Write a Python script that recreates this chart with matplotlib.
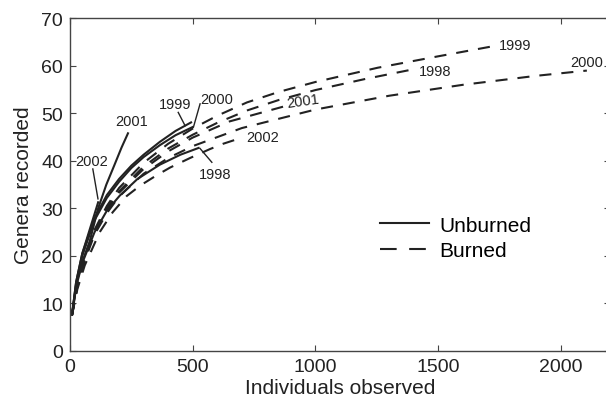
import numpy as np
import matplotlib
matplotlib.use('Agg')
import matplotlib.pyplot as plt
from matplotlib.lines import Line2D

plt.rcParams['font.family'] = ['Liberation Sans', 'DejaVu Sans']

# Rarefaction curves (individuals, genera)
# Unburned plots (solid)
unb_1998_x = [8, 25, 50, 100, 150, 203, 275, 366, 450, 528]
unb_1998_y = [7.5, 13.5, 18.5, 25, 29.5, 32.7, 36.2, 39.2, 41.3, 42.8]
unb_1999_x = [8, 25, 50, 100, 150, 200, 250, 300, 366, 430, 497]
unb_1999_y = [7.5, 14.5, 20.5, 28, 32.8, 36.2, 39, 41.3, 44, 46.3, 48.2]
unb_2000_x = [8, 25, 50, 100, 150, 200, 250, 300, 366, 430, 503]
unb_2000_y = [7.5, 14, 20, 27.5, 32.2, 35.6, 38.5, 40.8, 43.3, 45.4, 47.2]
unb_2001_x = [8, 30, 55, 80, 114, 148, 180, 210, 238]
unb_2001_y = [7.5, 15, 19.5, 23, 29.9, 35, 39, 42.8, 46]
unb_2002_x = [8, 25, 50, 80, 116]
unb_2002_y = [7.5, 14.5, 20.5, 25.5, 31.5]

# Burned plots (dashed)
bur_1998_x = [8, 30, 60, 100, 150, 200, 300, 400, 500, 600, 721, 850, 1000, 1200, 1402]
bur_1998_y = [7.5, 13.8, 19.5, 25, 30, 33.6, 38.8, 42.6, 45.5, 48, 50.6, 52.8, 54.9, 57.2, 59.3]
bur_1999_x = [8, 30, 60, 100, 150, 200, 300, 400, 500, 600, 721, 850, 1000, 1254, 1500, 1732]
bur_1999_y = [7.5, 14, 20, 25.5, 30.5, 34.3, 39.6, 43.6, 46.8, 49.5, 52.3, 54.5, 56.6, 59.6, 62, 64.2]
bur_2000_x = [8, 30, 60, 100, 150, 200, 300, 400, 500, 700, 1000, 1300, 1600, 1900, 2106]
bur_2000_y = [7.5, 13.5, 19, 24.5, 29, 32.5, 37.3, 40.6, 43.1, 46.9, 50.8, 53.7, 56, 57.9, 59]
bur_2001_x = [8, 30, 60, 100, 150, 200, 300, 400, 500, 650, 875]
bur_2001_y = [7.5, 14, 19.5, 25, 29.8, 33.3, 38.3, 42, 44.9, 48.3, 51.5]
bur_2002_x = [8, 30, 60, 121, 174, 231, 286, 354, 408, 489, 571, 624, 707]
bur_2002_y = [7.5, 13, 18, 25, 29.2, 32.6, 34.8, 37, 38.6, 40.6, 42.5, 43.6, 45]

ink = '#222222'
lw = 1.5
dash = (5.8, 4.8)

fig = plt.figure(figsize=(6.06, 4.02), dpi=100)
ax = fig.add_axes([0.1155, 0.1244, 0.891, 0.8276])

for xs, ys in [(unb_1998_x, unb_1998_y), (unb_1999_x, unb_1999_y), (unb_2000_x, unb_2000_y),
               (unb_2001_x, unb_2001_y), (unb_2002_x, unb_2002_y)]:
    ax.plot(xs, ys, color=ink, lw=lw, solid_capstyle='butt', solid_joinstyle='round')

for xs, ys in [(bur_1998_x, bur_1998_y), (bur_1999_x, bur_1999_y), (bur_2000_x, bur_2000_y),
               (bur_2001_x, bur_2001_y), (bur_2002_x, bur_2002_y)]:
    ax.plot(xs, ys, color=ink, lw=lw, dashes=dash, dash_capstyle='butt')

# year labels, with leader lines for the unburned curves
fs = 10.5
ax.text(428, 52, '1999', fontsize=fs, ha='center', va='center', color=ink)
ax.plot([441, 469], [50.2, 47.4], color=ink, lw=1.0)
ax.text(596, 53, '2000', fontsize=fs, ha='center', va='center', color=ink)
ax.plot([530, 503], [52, 47.1], color=ink, lw=1.0)
ax.text(251, 48.4, '2001', fontsize=fs, ha='center', va='center', color=ink)
ax.text(87, 40, '2002', fontsize=fs, ha='center', va='center', color=ink)
ax.plot([93, 114], [38.3, 32.0], color=ink, lw=1.0)
ax.text(592, 37.2, '1998', fontsize=fs, ha='center', va='center', color=ink)
ax.plot([578, 530], [39.7, 42.6], color=ink, lw=1.0)

ax.text(720, 45, '2002', fontsize=fs, ha='left', va='center', color=ink)
ax.text(948, 52.6, '2001', fontsize=fs, ha='center', va='center', color=ink, rotation=8)
ax.text(1420, 58.9, '1998', fontsize=fs, ha='left', va='center', color=ink)
ax.text(1746, 64.3, '1999', fontsize=fs, ha='left', va='center', color=ink)
ax.text(2106, 60.9, '2000', fontsize=fs, ha='center', va='center', color=ink)

handles = [Line2D([], [], color=ink, lw=lw),
           Line2D([], [], color=ink, lw=lw, dashes=(8, 6))]
ax.legend(handles, ['Unburned', 'Burned'], loc='upper left', bbox_to_anchor=(0.558, 0.432),
          frameon=False, fontsize=15, handlelength=2.35, handletextpad=0.5,
          labelspacing=0.3, borderaxespad=0)

ax.set_xlim(0, 2200)
ax.set_ylim(0, 70)
ax.set_xticks([0, 500, 1000, 1500, 2000])
ax.set_yticks(np.arange(0, 71, 10))
ax.tick_params(direction='in', top=True, right=True, length=4, width=0.8,
               color='#444444', labelsize=14, labelcolor=ink, pad=5)
for s in ax.spines.values():
    s.set_color('#444444')
    s.set_linewidth(1.0)
ax.set_xlabel('Individuals observed', fontsize=15, color=ink, labelpad=2)
ax.set_ylabel('Genera recorded', fontsize=15, color=ink, labelpad=6)

fig.savefig('out.png', dpi=100)
